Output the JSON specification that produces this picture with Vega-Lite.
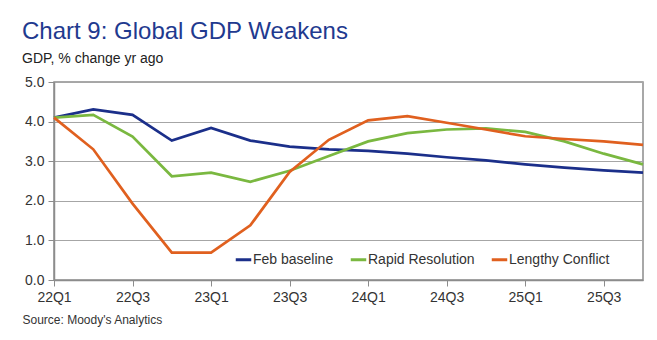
{
  "$schema": "https://vega.github.io/schema/vega-lite/v6.json",
  "width": 589,
  "height": 198,
  "autosize": {"type": "none"},
  "padding": {"left": 54, "top": 82, "right": 14, "bottom": 60},
  "background": "white",
  "config": {
    "font": "Liberation Sans",
    "view": {"stroke": "#8c8c8c", "strokeWidth": 1.5}
  },
  "title": {
    "text": "Chart 9: Global GDP Weakens",
    "subtitle": "GDP, % change yr ago",
    "anchor": "start",
    "offset": 9,
    "font": "Liberation Sans",
    "fontSize": 24,
    "fontWeight": "normal",
    "color": "#1f3a8f",
    "subtitleFont": "Liberation Sans",
    "subtitleFontSize": 14,
    "subtitleColor": "#222222",
    "subtitlePadding": 8
  },
  "data": {
    "values": [
      {"q": "22Q1", "s": "Feb baseline", "v": 4.10},
      {"q": "22Q2", "s": "Feb baseline", "v": 4.31},
      {"q": "22Q3", "s": "Feb baseline", "v": 4.17},
      {"q": "22Q4", "s": "Feb baseline", "v": 3.52},
      {"q": "23Q1", "s": "Feb baseline", "v": 3.84},
      {"q": "23Q2", "s": "Feb baseline", "v": 3.52},
      {"q": "23Q3", "s": "Feb baseline", "v": 3.37},
      {"q": "23Q4", "s": "Feb baseline", "v": 3.30},
      {"q": "24Q1", "s": "Feb baseline", "v": 3.26},
      {"q": "24Q2", "s": "Feb baseline", "v": 3.19},
      {"q": "24Q3", "s": "Feb baseline", "v": 3.10},
      {"q": "24Q4", "s": "Feb baseline", "v": 3.02},
      {"q": "25Q1", "s": "Feb baseline", "v": 2.92},
      {"q": "25Q2", "s": "Feb baseline", "v": 2.84},
      {"q": "25Q3", "s": "Feb baseline", "v": 2.77},
      {"q": "25Q4", "s": "Feb baseline", "v": 2.71},
      {"q": "22Q1", "s": "Rapid Resolution", "v": 4.10},
      {"q": "22Q2", "s": "Rapid Resolution", "v": 4.17},
      {"q": "22Q3", "s": "Rapid Resolution", "v": 3.62},
      {"q": "22Q4", "s": "Rapid Resolution", "v": 2.62},
      {"q": "23Q1", "s": "Rapid Resolution", "v": 2.71},
      {"q": "23Q2", "s": "Rapid Resolution", "v": 2.48},
      {"q": "23Q3", "s": "Rapid Resolution", "v": 2.76},
      {"q": "23Q4", "s": "Rapid Resolution", "v": 3.13},
      {"q": "24Q1", "s": "Rapid Resolution", "v": 3.50},
      {"q": "24Q2", "s": "Rapid Resolution", "v": 3.71},
      {"q": "24Q3", "s": "Rapid Resolution", "v": 3.80},
      {"q": "24Q4", "s": "Rapid Resolution", "v": 3.83},
      {"q": "25Q1", "s": "Rapid Resolution", "v": 3.74},
      {"q": "25Q2", "s": "Rapid Resolution", "v": 3.50},
      {"q": "25Q3", "s": "Rapid Resolution", "v": 3.19},
      {"q": "25Q4", "s": "Rapid Resolution", "v": 2.92},
      {"q": "22Q1", "s": "Lengthy Conflict", "v": 4.10},
      {"q": "22Q2", "s": "Lengthy Conflict", "v": 3.30},
      {"q": "22Q3", "s": "Lengthy Conflict", "v": 1.93},
      {"q": "22Q4", "s": "Lengthy Conflict", "v": 0.69},
      {"q": "23Q1", "s": "Lengthy Conflict", "v": 0.69},
      {"q": "23Q2", "s": "Lengthy Conflict", "v": 1.38},
      {"q": "23Q3", "s": "Lengthy Conflict", "v": 2.73},
      {"q": "23Q4", "s": "Lengthy Conflict", "v": 3.54},
      {"q": "24Q1", "s": "Lengthy Conflict", "v": 4.03},
      {"q": "24Q2", "s": "Lengthy Conflict", "v": 4.14},
      {"q": "24Q3", "s": "Lengthy Conflict", "v": 3.97},
      {"q": "24Q4", "s": "Lengthy Conflict", "v": 3.80},
      {"q": "25Q1", "s": "Lengthy Conflict", "v": 3.63},
      {"q": "25Q2", "s": "Lengthy Conflict", "v": 3.56},
      {"q": "25Q3", "s": "Lengthy Conflict", "v": 3.50},
      {"q": "25Q4", "s": "Lengthy Conflict", "v": 3.41}
    ]
  },
  "mark": {"type": "line", "strokeWidth": 2.7, "strokeJoin": "miter"},
  "encoding": {
    "x": {
      "field": "q",
      "type": "ordinal",
      "sort": null,
      "scale": {"type": "point", "padding": 0},
      "axis": {
        "values": ["22Q1", "22Q3", "23Q1", "23Q3", "24Q1", "24Q3", "25Q1", "25Q3"],
        "labelAngle": 0,
        "labelFontSize": 14,
        "labelColor": "#333333",
        "labelPadding": 4,
        "tickSize": 6,
        "tickColor": "#8c8c8c",
        "domainColor": "#8c8c8c",
        "domainWidth": 1.5,
        "grid": false,
        "title": "Source: Moody's Analytics",
        "titleAnchor": "start",
        "titleAlign": "left",
        "titleX": -32,
        "titleY": 43,
        "titleFontSize": 12,
        "titleFontWeight": "normal",
        "titleColor": "#333333",
        "titleBaseline": "alphabetic"
      }
    },
    "y": {
      "field": "v",
      "type": "quantitative",
      "scale": {"domain": [0, 5], "nice": false},
      "axis": {
        "values": [0, 1, 2, 3, 4, 5],
        "format": ".1f",
        "labelFontSize": 14,
        "labelColor": "#333333",
        "labelPadding": 4,
        "tickSize": 6,
        "tickColor": "#8c8c8c",
        "domainColor": "#8c8c8c",
        "domainWidth": 1.5,
        "gridColor": "#a6a6a6",
        "gridWidth": 1,
        "title": null
      }
    },
    "color": {
      "field": "s",
      "type": "nominal",
      "sort": ["Feb baseline", "Rapid Resolution", "Lengthy Conflict"],
      "scale": {
        "domain": ["Feb baseline", "Rapid Resolution", "Lengthy Conflict"],
        "range": ["#1b2f8a", "#7ab840", "#e0601f"]
      },
      "legend": {
        "title": null,
        "orient": "none",
        "legendX": 180,
        "legendY": 168,
        "direction": "horizontal",
        "symbolType": "stroke",
        "symbolSize": 240,
        "symbolStrokeWidth": 3,
        "labelFontSize": 14,
        "labelColor": "#333333",
        "labelOffset": 0,
        "columnPadding": 10
      }
    }
  }
}
